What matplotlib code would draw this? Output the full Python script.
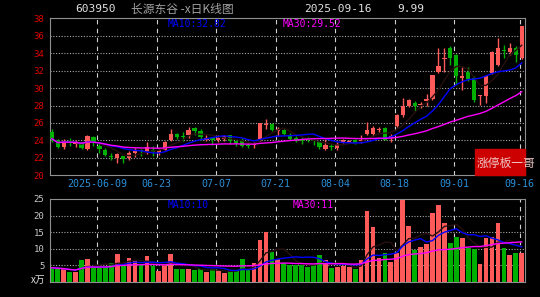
import numpy as np
import pandas as pd
import matplotlib
matplotlib.use('Agg')
import matplotlib.pyplot as plt
from matplotlib.patches import Rectangle

plt.rcParams['font.family'] = ['DejaVu Sans Mono', 'Noto Sans CJK SC']

# daily candles, 2025-05-27 .. 2025-09-16 (80 trading days)
opens = [25.0, 24.1, 23.3, 23.95, 23.55, 23.6, 23.0, 24.4, 23.4, 22.95,
         22.2, 22.0, 22.2, 22.0, 22.55, 22.95, 22.55, 22.95, 22.55, 22.95,
         24.0, 24.75, 24.5, 24.65, 25.4, 25.1, 24.1, 24.3, 24.05, 24.2,
         24.6, 23.9, 24.1, 23.5, 23.45, 24.0, 25.75, 25.85, 25.1, 25.2,
         24.6, 24.3, 24.2, 24.15, 24.0, 23.8, 23.05, 23.35, 23.1, 23.8,
         23.8, 24.1, 23.95, 24.7, 24.7, 25.15, 25.45, 24.3, 25.6, 26.9,
         28.0, 28.3, 28.05, 28.55, 28.75, 31.8, 33.35, 34.55, 33.8, 31.2,
         31.9, 31.1, 29.05, 29.05, 31.7, 32.65, 34.4, 34.15, 34.65, 33.5]
closes = [24.2, 23.3, 23.9, 23.8, 23.7, 23.15, 24.55, 23.8, 23.0, 22.35,
          22.1, 22.45, 21.85, 22.5, 22.75, 22.75, 23.25, 22.7, 22.85, 23.8,
          24.75, 24.4, 24.35, 25.25, 25.05, 24.4, 24.3, 24.0, 24.3, 24.45,
          23.95, 23.75, 23.35, 23.35, 23.6, 26.0, 25.9, 25.25, 25.3, 24.7,
          24.2, 24.0, 23.95, 24.05, 23.9, 23.25, 23.45, 23.25, 23.55, 24.0,
          23.95, 23.7, 24.1, 25.2, 25.45, 25.35, 24.1, 24.45, 26.9, 28.0,
          28.6, 27.95, 28.2, 28.75, 31.5, 32.55, 33.5, 33.5, 31.4, 31.35,
          31.05, 28.6, 29.2, 31.35, 34.15, 34.65, 34.3, 34.65, 33.8, 37.17]
highs = [25.3, 24.2, 24.2, 24.3, 24.0, 23.8, 24.65, 24.55, 23.7, 23.1,
         22.55, 22.6, 22.25, 22.75, 23.15, 23.0, 23.8, 23.4, 23.0, 23.9,
         25.35, 24.85, 25.0, 25.5, 25.5, 25.35, 24.6, 24.35, 24.65, 24.65,
         24.65, 24.1, 24.3, 23.7, 23.8, 26.05, 26.5, 26.0, 25.5, 25.35,
         24.8, 24.45, 24.4, 24.4, 24.2, 23.95, 24.2, 23.6, 23.8, 24.2,
         24.1, 24.2, 24.6, 26.1, 25.7, 25.55, 25.55, 24.7, 27.05, 28.9,
         28.8, 28.55, 28.45, 29.3, 31.55, 34.55, 34.55, 34.85, 33.9, 32.4,
         32.4, 31.35, 29.25, 31.5, 34.3, 35.7, 34.9, 35.15, 34.85, 37.17]
lows = [23.8, 23.1, 23.0, 23.4, 23.25, 23.0, 22.95, 23.4, 22.6, 22.2,
        21.8, 21.4, 21.45, 21.75, 22.15, 22.2, 22.45, 22.25, 22.35, 22.9,
        23.9, 24.2, 23.9, 24.3, 24.65, 24.1, 23.9, 23.5, 23.8, 23.9,
        23.6, 23.35, 23.2, 23.15, 23.15, 23.9, 25.35, 25.1, 24.5, 24.6,
        24.0, 23.8, 23.55, 23.8, 23.45, 23.05, 22.95, 22.95, 22.9, 23.7,
        23.75, 23.6, 23.7, 24.6, 24.45, 24.95, 24.0, 23.8, 25.5, 26.7,
        27.8, 27.4, 27.7, 27.9, 28.6, 31.7, 31.9, 32.6, 30.35, 29.8,
        30.85, 28.45, 28.05, 28.3, 31.6, 32.55, 33.4, 33.8, 32.95, 33.3]
# volume, x万
vols = [4.3, 4.0, 3.8, 3.0, 3.0, 6.5, 6.8, 4.6, 4.6, 4.6,
        5.8, 8.5, 5.2, 7.1, 6.2, 5.0, 7.7, 4.8, 3.3, 5.0,
        8.3, 4.0, 3.8, 4.0, 3.5, 4.0, 3.0, 3.8, 3.5, 2.6,
        3.2, 3.2, 7.0, 3.5, 5.6, 12.6, 15.2, 9.1, 6.8, 5.6,
        5.2, 5.2, 5.2, 4.6, 5.0, 8.2, 6.5, 4.2, 4.5, 4.8,
        4.5, 3.8, 6.5, 21.4, 16.6, 7.1, 8.6, 6.0, 8.8, 25.0,
        16.9, 9.5, 10.6, 11.3, 20.9, 23.1, 17.9, 11.6, 13.6, 13.4,
        10.3, 9.8, 5.3, 13.4, 13.7, 17.9, 10.1, 8.0, 8.6, 8.6]

tick_idx = [8, 18, 28, 38, 48, 58, 68, 79]
tick_labels = ['2025-06-09', '06-23', '07-07', '07-21', '08-04', '08-18', '09-01', '09-16']

RED = '#ff5a5a'
GREEN = '#00b000'
GRID = '#a8a8a8'
FRAME = '#909090'
MA5C = '#281010'

df = pd.DataFrame({'o': opens, 'h': highs, 'l': lows, 'c': closes, 'v': vols})
x = np.arange(len(df))
up = df['c'] >= df['o']
cols = np.where(up, RED, GREEN)

fig = plt.figure(figsize=(5.4, 2.97), dpi=100, facecolor='black')
ax = fig.add_axes([50 / 540, 1 - 175.3 / 297, 475 / 540, 157 / 297], facecolor='black')
axv = fig.add_axes([50 / 540, 1 - 282.0 / 297, 475 / 540, 83.0 / 297], facecolor='black')

xlim = (-0.3, 79.55)

# price panel
for y in range(22, 38, 2):
    ax.axhline(y, color=GRID, lw=0.8, ls=(0, (1, 1.5)), zorder=1)
for t in tick_idx:
    ax.axvline(t - 0.35, color='#d0d0d0', lw=0.8, ls=(0, (4, 4)), zorder=1)

ax.vlines(x, df['l'], df['h'], colors=cols, lw=1, zorder=3)
body = (df['c'] - df['o']).abs().clip(lower=0.07)
ax.bar(x, body, 0.72, bottom=df[['o', 'c']].min(axis=1), color=cols, zorder=4)

ma5 = df['c'].rolling(5, min_periods=1).mean()
ma10 = df['c'].rolling(10, min_periods=1).mean()
ma30 = df['c'].rolling(30, min_periods=1).mean()
ax.plot(x, ma5, color=MA5C, lw=1, zorder=5)
ax.plot(x, ma10, color='#0000ff', lw=1, zorder=5)
ax.plot(x, ma30, color='#ff00ff', lw=1, zorder=5)

ax.set_xlim(*xlim)
ax.set_ylim(20, 38)
ax.set_yticks(range(20, 39, 2))
ax.tick_params(axis='y', colors='#e00000', labelsize=6.5, length=0, pad=4)
ax.set_xticks([])
for s in ax.spines.values():
    s.set_color(FRAME)

for t, lab in zip(tick_idx, tick_labels):
    ax.text(t - 0.35, -0.055, lab, transform=ax.get_xaxis_transform(),
            ha='center', va='center', color='#2a8fd8', fontsize=7.2)

ax.text(0.248, 0.965, 'MA10:32.82', transform=ax.transAxes, color='#0000ff',
        fontsize=7, ha='left', va='center')
ax.text(0.489, 0.965, 'MA30:29.52', transform=ax.transAxes, color='#ff00ff',
        fontsize=7, ha='left', va='center')

# volume panel
for y in (5, 10, 15, 20):
    axv.axhline(y, color=GRID, lw=0.8, ls=(0, (1, 1.5)), zorder=1)
for t in tick_idx:
    axv.axvline(t - 0.35, color='#d0d0d0', lw=0.8, ls=(0, (4, 4)), zorder=1)
axv.bar(x, df['v'], 0.8, color=cols, zorder=2)
axv.plot(x, df['v'].rolling(5, min_periods=1).mean(), color=MA5C, lw=1, zorder=3)
axv.plot(x, df['v'].rolling(10, min_periods=1).mean(), color='#0000ff', lw=1, zorder=3)
axv.plot(x, df['v'].rolling(30, min_periods=1).mean(), color='#ff00ff', lw=1, zorder=3)
axv.set_xlim(*xlim)
axv.set_ylim(0, 25)
axv.set_yticks([5, 10, 15, 20, 25])
axv.tick_params(axis='y', colors='#c8c8c8', labelsize=6.5, length=0, pad=4)
axv.set_xticks([])
for s in axv.spines.values():
    s.set_color(FRAME)
axv.text(0.248, 0.925, 'MA10:10', transform=axv.transAxes, color='#0000ff',
         fontsize=7, ha='left', va='center')
axv.text(0.51, 0.925, 'MA30:11', transform=axv.transAxes, color='#ff00ff',
         fontsize=7, ha='left', va='center')
fig.text(38 / 540, 1 - 280 / 297, 'x万', color='#e0e0e0', fontsize=7,
         ha='center', va='center', family=['Noto Sans CJK SC', 'DejaVu Sans'])

# header
fig.text(96 / 540, 1 - 9 / 297, '603950', color='#e0e0e0', fontsize=8, ha='center', va='center')
fig.text(131 / 540, 1 - 9 / 297, '长源东谷 -x日K线图', color='#a0a0a0', fontsize=8.5,
         ha='left', va='center', family=['Noto Sans CJK SC', 'DejaVu Sans'])
fig.text(338 / 540, 1 - 9 / 297, '2025-09-16', color='#e0e0e0', fontsize=8, ha='center', va='center')
fig.text(411 / 540, 1 - 9 / 297, '9.99', color='#e0e0e0', fontsize=8, ha='center', va='center')

# watermark
fig.patches.append(Rectangle((475 / 540, 1 - 175 / 297), 50 / 540, 26 / 297,
                             transform=fig.transFigure, color='#cc0000', zorder=5))
fig.text(477 / 540, 1 - 163 / 297, '涨停板一哥', color='#f0c8c8', fontsize=8.5,
         ha='left', va='center', zorder=6, family=['Noto Sans CJK SC', 'DejaVu Sans'])

fig.savefig('out.png', dpi=100, facecolor='black')
